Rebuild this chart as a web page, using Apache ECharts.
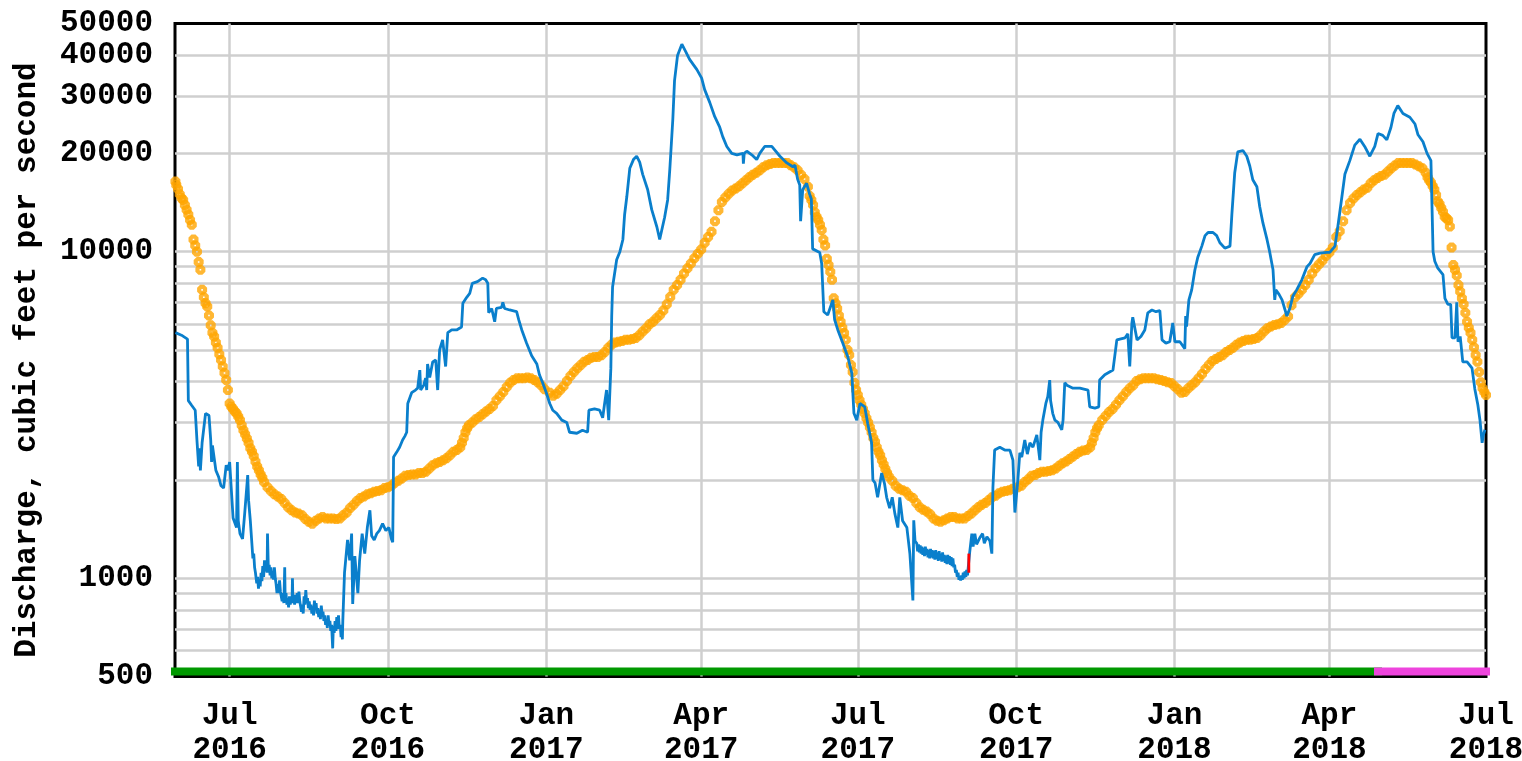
<!DOCTYPE html>
<html>
<head>
<meta charset="utf-8">
<title>Discharge, cubic feet per second</title>
<script src="https://cdn.jsdelivr.net/npm/echarts@6/dist/echarts.min.js"></script>
<style>
  html, body { margin: 0; padding: 0; background: #fff; }
  #chart { width: 1522px; height: 761px; }
</style>
</head>
<body>
<div id="chart"></div>
<script>
// ---------- axis definitions ----------
const monthNames = ['Jan','Feb','Mar','Apr','May','Jun','Jul','Aug','Sep','Oct','Nov','Dec'];
const axisStart = '2016-05-30 06:00';
const axisEnd = '2018-07-01 00:00';
const xLabelDates = ['2016-07-01','2016-10-01','2017-01-01','2017-04-01','2017-07-01','2017-10-01','2018-01-01','2018-04-01','2018-07-01'];
const xGridDates = ['2016-07-01','2016-10-01','2017-01-01','2017-04-01','2017-07-01','2017-10-01','2018-01-01','2018-04-01'];
const yLabelValues = [500, 1000, 10000, 20000, 30000, 40000, 50000];
const yGridValues = [600, 700, 800, 900, 1000, 2000, 3000, 4000, 5000, 6000, 7000, 8000, 9000, 10000, 20000, 30000, 40000];

// ---------- measured discharge (instantaneous) ----------
const discharge = [
['2016-05-30 12:00',5650],['2016-06-03',5550],['2016-06-06 12:00',5400],['2016-06-07',3500],['2016-06-09',3380],['2016-06-11',3270],
['2016-06-12',2650],['2016-06-13',2200],['2016-06-13 12:00',2500],['2016-06-14',2140],['2016-06-15',2600],['2016-06-17',3200],
['2016-06-19',3150],['2016-06-20',2650],['2016-06-20 12:00',2270],['2016-06-21',2550],['2016-06-23',2140],['2016-06-24 12:00',2050],
['2016-06-26',1920],['2016-06-27 12:00',1890],['2016-06-29',2220],['2016-06-30',2140],['2016-07-01',2270],['2016-07-02',1860],
['2016-07-03',1530],['2016-07-05',1430],['2016-07-05 12:00',2270],['2016-07-06',1500],['2016-07-07',1370],['2016-07-08 12:00',1320],
['2016-07-09 18:00',1580],['2016-07-11 12:00',2070],['2016-07-12',1735],['2016-07-13',1505],
['2016-07-14',1260],['2016-07-14 12:00',1150],['2016-07-15',1190],['2016-07-15 12:00',1080],['2016-07-16',1040],['2016-07-16 18:00',965],
['2016-07-17 06:00',1010],['2016-07-17 18:00',930],['2016-07-18 06:00',990],['2016-07-18 18:00',945],['2016-07-19 06:00',1040],['2016-07-19 18:00',980],
['2016-07-20 06:00',1090],['2016-07-20 18:00',1010],['2016-07-21 06:00',1135],['2016-07-21 18:00',1050],['2016-07-22 06:00',1110],['2016-07-22 18:00',1040],
['2016-07-23',1370],['2016-07-23 12:00',1060],['2016-07-24',1100],['2016-07-24 12:00',1020],['2016-07-25',1080],['2016-07-25 12:00',1000],
['2016-07-26',1050],['2016-07-26 12:00',990],['2016-07-27',1080],['2016-07-27 12:00',1000],['2016-07-28',960],['2016-07-28 12:00',900],
['2016-07-29',960],['2016-07-29 12:00',900],['2016-07-30',985],['2016-07-30 12:00',910],['2016-07-31',900],['2016-07-31 12:00',850],
['2016-08-01',900],['2016-08-01 12:00',840],['2016-08-02',1080],['2016-08-02 06:00',870],['2016-08-02 18:00',900],['2016-08-03 06:00',830],
['2016-08-03 18:00',870],['2016-08-04 06:00',815],['2016-08-04 18:00',880],['2016-08-05 06:00',830],['2016-08-05 18:00',880],['2016-08-06 06:00',840],
['2016-08-06 12:00',1000],['2016-08-06 18:00',850],['2016-08-07 06:00',880],['2016-08-07 18:00',830],['2016-08-08 06:00',890],['2016-08-08 18:00',840],
['2016-08-09 06:00',900],['2016-08-09 18:00',840],['2016-08-10 06:00',910],['2016-08-10 18:00',850],['2016-08-11 06:00',860],['2016-08-11 18:00',790],
['2016-08-12 06:00',830],['2016-08-12 18:00',780],['2016-08-13 06:00',880],['2016-08-13 18:00',830],['2016-08-14 06:00',920],['2016-08-14 18:00',840],
['2016-08-15 06:00',870],['2016-08-15 18:00',810],['2016-08-16 06:00',850],['2016-08-16 18:00',800],['2016-08-17 06:00',830],['2016-08-17 18:00',780],
['2016-08-18 06:00',820],['2016-08-18 18:00',770],['2016-08-19 06:00',855],['2016-08-19 18:00',800],['2016-08-20 06:00',840],['2016-08-20 18:00',780],
['2016-08-21 06:00',810],['2016-08-21 18:00',760],['2016-08-22 06:00',800],['2016-08-22 18:00',750],['2016-08-23 06:00',825],['2016-08-23 18:00',770],
['2016-08-24 06:00',790],['2016-08-24 18:00',740],['2016-08-25 06:00',770],['2016-08-25 18:00',720],['2016-08-26 06:00',750],['2016-08-26 18:00',705],
['2016-08-27 06:00',770],['2016-08-27 18:00',720],['2016-08-28 06:00',740],['2016-08-28 18:00',690],['2016-08-29 06:00',720],['2016-08-29 21:00',610],
['2016-08-30 06:00',715],['2016-08-30 18:00',680],['2016-08-31 06:00',740],['2016-08-31 18:00',690],['2016-09-01 06:00',760],['2016-09-01 18:00',700],
['2016-09-02 06:00',770],['2016-09-02 18:00',700],['2016-09-03 06:00',720],['2016-09-03 18:00',660],['2016-09-04 06:00',700],['2016-09-04 12:00',650],
['2016-09-04 18:00',740],['2016-09-05 18:00',1040],['2016-09-07 12:00',1310],
['2016-09-08 18:00',1135],['2016-09-09 21:00',1370],['2016-09-10 12:00',835],['2016-09-11 18:00',1170],['2016-09-13 12:00',900],['2016-09-14 12:00',1135],
['2016-09-16',1370],['2016-09-17 12:00',1190],['2016-09-19',1430],['2016-09-20 12:00',1615],['2016-09-21 12:00',1350],['2016-09-23',1310],
['2016-09-24 12:00',1370],['2016-09-26',1400],['2016-09-27 21:00',1470],['2016-09-29 18:00',1400],['2016-10-01 12:00',1430],['2016-10-03',1320],
['2016-10-03 18:00',1290],['2016-10-04 06:00',2350],['2016-10-06',2430],['2016-10-07 18:00',2520],['2016-10-09 12:00',2650],['2016-10-10 18:00',2720],
['2016-10-11 21:00',2800],['2016-10-12 12:00',3430],['2016-10-14 18:00',3700],['2016-10-17',3770],['2016-10-18 06:00',3820],['2016-10-19 12:00',4340],
['2016-10-20',3770],['2016-10-21 18:00',3900],['2016-10-22 21:00',4100],['2016-10-23 12:00',3770],['2016-10-24',4530],['2016-10-25 06:00',4120],
['2016-10-27',4600],['2016-10-28 18:00',4660],['2016-10-29 21:00',3770],['2016-10-31',5000],['2016-11-01 18:00',5370],['2016-11-03 12:00',4450],
['2016-11-04 18:00',5650],['2016-11-07',5760],['2016-11-09 21:00',5760],['2016-11-12 18:00',5880],['2016-11-13 12:00',6950],['2016-11-15 18:00',7250],
['2016-11-17 12:00',7450],['2016-11-19',8000],['2016-11-22',8100],['2016-11-25',8300],['2016-11-26 18:00',8200],['2016-11-28',8000],
['2016-11-28 12:00',6500],['2016-11-30 06:00',6700],['2016-12-02',6100],['2016-12-03',6700],['2016-12-06',6750],['2016-12-06 18:00',7000],
['2016-12-07 18:00',6700],['2016-12-10 18:00',6630],['2016-12-13 12:00',6580],['2016-12-14 18:00',6550],['2016-12-16',6180],['2016-12-17 18:00',5760],
['2016-12-20 12:00',5250],['2016-12-23 12:00',4800],['2016-12-26 12:00',4530],['2016-12-28',4200],['2016-12-29 21:00',3970],['2017-01-01',3700],
['2017-01-03',3430],['2017-01-04 18:00',3270],['2017-01-07',3200],['2017-01-10',3050],['2017-01-12 21:00',3000],['2017-01-14 12:00',2800],
['2017-01-18 18:00',2780],['2017-01-22',2840],['2017-01-25',2800],['2017-01-25 18:00',3270],['2017-01-29',3300],['2017-02-01',3270],
['2017-02-02 18:00',3100],['2017-02-03 21:00',3430],['2017-02-05',3770],['2017-02-06 06:00',3050],['2017-02-07 12:00',4400],['2017-02-08',6350],
['2017-02-08 12:00',7800],['2017-02-10 21:00',9450],['2017-02-12 18:00',10000],['2017-02-14 12:00',10900],['2017-02-15 12:00',13000],['2017-02-16 18:00',14700],
['2017-02-18 12:00',18000],['2017-02-20 18:00',19200],['2017-02-22 12:00',19600],['2017-02-24 06:00',18800],['2017-02-26',17250],['2017-02-28 21:00',15500],
['2017-03-03 06:00',13450],['2017-03-06 06:00',11900],['2017-03-07 21:00',10900],['2017-03-09',11000],['2017-03-10 18:00',12750],['2017-03-12 12:00',14400],
['2017-03-13 18:00',17850],['2017-03-15 12:00',25400],['2017-03-16 12:00',33400],['2017-03-18 06:00',39900],['2017-03-20 18:00',43200],['2017-03-23',41000],
['2017-03-25 06:00',38800],['2017-03-29 12:00',36100],['2017-04-01 06:00',34000],['2017-04-03',31350],['2017-04-06',28600],['2017-04-08 21:00',25900],
['2017-04-11 18:00',24050],['2017-04-13 12:00',22500],['2017-04-15 21:00',21000],['2017-04-18 18:00',20000],['2017-04-21 18:00',19800],['2017-04-25 06:00',20000],
['2017-04-25 12:00',18600],['2017-04-26',20000],['2017-04-27 12:00',20300],['2017-04-30 09:00',19800],['2017-05-03 06:00',19150],['2017-05-05',20000],
['2017-05-07 21:00',21000],['2017-05-12',21000],['2017-05-16 18:00',19600],['2017-05-20 18:00',18700],['2017-05-24 06:00',18200],['2017-05-25 12:00',18400],
['2017-05-27',16700],['2017-05-28 06:00',16000],['2017-05-28 18:00',12400],['2017-05-30',15500],['2017-06-01 06:00',16200],['2017-06-03',15000],
['2017-06-04',14500],['2017-06-04 18:00',10200],['2017-06-08 21:00',9950],['2017-06-10',9200],['2017-06-11 06:00',6550],['2017-06-13 12:00',6400],
['2017-06-16 12:00',7120],['2017-06-17 12:00',6200],['2017-06-19 09:00',5760],['2017-06-22 06:00',5250],['2017-06-25 06:00',4750],['2017-06-27 12:00',4250],
['2017-06-28 18:00',3200],['2017-06-30 09:00',3050],['2017-07-02 06:00',3430],['2017-07-05',3350],['2017-07-06 18:00',2980],['2017-07-09',2600],
['2017-07-09 18:00',2000],['2017-07-11',1960],['2017-07-12 12:00',1770],['2017-07-14 21:00',2100],['2017-07-16 12:00',1950],['2017-07-17 18:00',1770],
['2017-07-19 12:00',1640],['2017-07-21',1770],['2017-07-22 12:00',1580],['2017-07-24 06:00',1430],['2017-07-25 09:00',1770],['2017-07-27',1500],
['2017-07-29 12:00',1430],['2017-07-31 06:00',1190],['2017-08-02',855],['2017-08-02 12:00',1505],['2017-08-03 06:00',1300],
['2017-08-04 06:00',1280],['2017-08-04 18:00',1210],['2017-08-05 06:00',1270],['2017-08-05 18:00',1200],['2017-08-06 06:00',1260],['2017-08-06 18:00',1190],
['2017-08-07 06:00',1250],['2017-08-07 18:00',1180],['2017-08-08 06:00',1240],['2017-08-08 18:00',1170],['2017-08-09 06:00',1250],['2017-08-09 18:00',1180],
['2017-08-10 06:00',1230],['2017-08-10 18:00',1160],['2017-08-11 06:00',1220],['2017-08-11 18:00',1150],['2017-08-12 06:00',1230],['2017-08-12 18:00',1160],
['2017-08-13 06:00',1220],['2017-08-13 18:00',1150],['2017-08-14 06:00',1210],['2017-08-14 18:00',1140],['2017-08-15 06:00',1220],['2017-08-15 18:00',1145],
['2017-08-16 06:00',1200],['2017-08-16 18:00',1130],['2017-08-17 06:00',1210],['2017-08-17 18:00',1140],['2017-08-18 06:00',1190],['2017-08-18 18:00',1125],
['2017-08-19 06:00',1200],['2017-08-19 18:00',1130],['2017-08-20 06:00',1180],['2017-08-20 18:00',1115],['2017-08-21 06:00',1170],['2017-08-21 18:00',1105],
['2017-08-22 06:00',1180],['2017-08-22 18:00',1110],['2017-08-23 06:00',1170],['2017-08-23 18:00',1100],['2017-08-24 06:00',1160],['2017-08-24 18:00',1090],
['2017-08-25 06:00',1150],['2017-08-25 18:00',1080],['2017-08-26 06:00',1100],['2017-08-26 18:00',1040],['2017-08-27 06:00',1060],['2017-08-27 18:00',1010],
['2017-08-28 06:00',1040],['2017-08-28 18:00',990],['2017-08-29 06:00',1010],['2017-08-29 18:00',985],['2017-08-30 06:00',1020],['2017-08-30 18:00',990],
['2017-08-31 06:00',1040],['2017-08-31 18:00',1000],['2017-09-01 06:00',1050],['2017-09-01 18:00',1010],['2017-09-02 06:00',1060],['2017-09-02 18:00',1020],
['2017-09-03',1060],['2017-09-04',1200],['2017-09-05 06:00',1370],
['2017-09-06',1250],['2017-09-07',1370],['2017-09-08',1270],['2017-09-09 21:00',1330],['2017-09-11 12:00',1370],['2017-09-12 12:00',1280],
['2017-09-14',1340],['2017-09-15 18:00',1300],['2017-09-16 21:00',1190],['2017-09-17 12:00',1900],['2017-09-18 12:00',2470],['2017-09-21 12:00',2520],
['2017-09-24 09:00',2470],['2017-09-27 09:00',2470],['2017-09-29 03:00',2300],['2017-09-30 06:00',1590],['2017-10-02',2000],['2017-10-03 03:00',2420],
['2017-10-04 06:00',2350],['2017-10-06',2650],['2017-10-07 12:00',2400],['2017-10-09',2600],['2017-10-10 18:00',2520],['2017-10-13',2750],
['2017-10-14 18:00',2300],['2017-10-15 12:00',2800],['2017-10-16 12:00',3050],['2017-10-18 06:00',3430],['2017-10-19 09:00',3600],['2017-10-20 12:00',4045],
['2017-10-21',3500],['2017-10-22 06:00',3200],['2017-10-23 12:00',3050],['2017-10-25 06:00',3000],['2017-10-27 12:00',2850],['2017-10-28 06:00',3050],
['2017-10-29 06:00',3970],['2017-10-30 12:00',3900],['2017-11-03',3820],['2017-11-07',3820],['2017-11-11 18:00',3770],['2017-11-12 18:00',3350],
['2017-11-15 18:00',3320],['2017-11-18',3350],['2017-11-18 12:00',4045],['2017-11-21 12:00',4200],['2017-11-26 06:00',4340],['2017-11-28 12:00',5370],
['2017-11-30 06:00',5400],['2017-12-03 06:00',5450],['2017-12-04 21:00',5600],['2017-12-06',4450],['2017-12-07 06:00',6050],['2017-12-07 18:00',6300],
['2017-12-10 06:00',5370],['2017-12-12 12:00',5500],['2017-12-14 18:00',5760],['2017-12-16 12:00',6500],['2017-12-18 21:00',6630],['2017-12-21 06:00',6550],
['2017-12-23 12:00',6600],['2017-12-24 18:00',5370],['2017-12-27',5250],['2017-12-29 06:00',5300],['2017-12-31',6050],['2018-01-01 06:00',5300],
['2018-01-04 03:00',5300],['2018-01-05 06:00',5300],['2018-01-07',5050],['2018-01-07 12:00',6350],['2018-01-08',5900],['2018-01-09 09:00',7120],
['2018-01-11',7640],['2018-01-12 21:00',8800],['2018-01-14 12:00',9600],['2018-01-16 21:00',10400],['2018-01-18 18:00',11200],['2018-01-20 12:00',11450],
['2018-01-23 09:00',11450],['2018-01-25 12:00',11200],['2018-01-27 09:00',10650],['2018-01-30 06:00',10250],['2018-02-02 06:00',10400],['2018-02-03 09:00',13100],
['2018-02-05',17450],['2018-02-06 18:00',20200],['2018-02-09 18:00',20400],['2018-02-12',19600],['2018-02-13 18:00',18300],['2018-02-15 12:00',16600],
['2018-02-17 21:00',15800],['2018-02-19 12:00',13750],['2018-02-21 09:00',12250],['2018-02-23 18:00',10900],['2018-02-25 09:00',9950],['2018-02-27 06:00',8800],
['2018-02-28 06:00',7120],['2018-02-28 21:00',7640],['2018-03-02 18:00',7400],['2018-03-04 12:00',7120],['2018-03-06 06:00',6630],['2018-03-07 06:00',6350],
['2018-03-09',6700],['2018-03-10 18:00',7300],['2018-03-13',7640],['2018-03-16',8200],['2018-03-19',9000],['2018-03-20 18:00',9200],
['2018-03-23 12:00',9800],['2018-03-26 12:00',9900],['2018-03-30 12:00',9950],['2018-04-01 06:00',9950],['2018-04-04 06:00',10400],['2018-04-05 21:00',11900],
['2018-04-08 06:00',14700],['2018-04-10',17250],['2018-04-12 21:00',19000],['2018-04-15 18:00',21200],['2018-04-18 18:00',22100],['2018-04-21 12:00',21000],
['2018-04-24 12:00',19600],['2018-04-27 09:00',21000],['2018-04-29 06:00',23000],['2018-05-02',22700],['2018-05-04 09:00',22000],['2018-05-06 18:00',24000],
['2018-05-08 12:00',26500],['2018-05-10 18:00',28000],['2018-05-13 18:00',26500],['2018-05-17 18:00',25800],['2018-05-20 18:00',24600],['2018-05-22 12:00',22800],
['2018-05-25 09:00',21700],['2018-05-27 18:00',20000],['2018-05-30',19000],['2018-05-31 06:00',10000],['2018-06-01 06:00',9350],['2018-06-03',8900],
['2018-06-06',8500],['2018-06-07 03:00',7200],['2018-06-08 21:00',6900],['2018-06-10 12:00',6900],['2018-06-11 06:00',5450],['2018-06-13',5450],
['2018-06-14',7000],['2018-06-14 18:00',5300],['2018-06-16',5500],['2018-06-17 12:00',4600],['2018-06-20',4600],['2018-06-22 21:00',4400],
['2018-06-24 12:00',3800],['2018-06-26 06:00',3400],['2018-06-27 12:00',3050],['2018-06-28 18:00',2600],['2018-06-29 12:00',2750],['2018-06-30 09:00',2850]
];

// ---------- median of daily statistic (historical record) ----------
const dailyMedian = [
['2016-05-30 12:00',16400],['2016-05-31',16000],['2016-06-01',15550],['2016-06-02',15000],['2016-06-03',14600],['2016-06-04',14400],
['2016-06-05',13900],['2016-06-06',13450],['2016-06-07',13000],['2016-06-08',12500],['2016-06-09',12100],['2016-06-10',10900],
['2016-06-11',10450],['2016-06-12',10000],['2016-06-13',9300],['2016-06-14',8800],['2016-06-15',7640],['2016-06-16',7250],
['2016-06-17',6950],['2016-06-18',6800],['2016-06-19',6380],['2016-06-20',5950],['2016-06-21',5650],['2016-06-22',5500],
['2016-06-23',5270],['2016-06-24',5080],['2016-06-25',4850],['2016-06-26',4660],['2016-06-27',4450],['2016-06-28',4250],
['2016-06-29',4045],['2016-06-30',3770],['2016-07-01',3430],['2016-07-02',3350],['2016-07-03',3300],['2016-07-04',3240],
['2016-07-05',3200],['2016-07-06',3130],['2016-07-07',3050],['2016-07-08',2940],['2016-07-09',2840],['2016-07-10',2760],
['2016-07-11',2680],['2016-07-12',2600],['2016-07-13',2500],['2016-07-14',2440],['2016-07-15',2370],['2016-07-16',2280],
['2016-07-17',2200],['2016-07-18',2140],['2016-07-19',2080],['2016-07-20',2030],['2016-07-21',1970],['2016-07-23',1900],
['2016-07-25',1850],['2016-07-27',1810],['2016-07-29',1780],['2016-07-31',1750],['2016-08-02',1700],['2016-08-04',1650],
['2016-08-06',1615],['2016-08-08',1590],['2016-08-10',1580],['2016-08-12',1560],['2016-08-14',1520],['2016-08-16',1490],
['2016-08-18',1470],['2016-08-20',1500],['2016-08-22',1525],['2016-08-24',1540],['2016-08-26',1525],['2016-08-28',1525],
['2016-08-30',1525],['2016-09-01',1520],['2016-09-03',1525],['2016-09-05',1560],['2016-09-07',1590],['2016-09-09',1640],
['2016-09-11',1680],['2016-09-13',1725],['2016-09-15',1760],['2016-09-17',1780],['2016-09-19',1810],['2016-09-21',1820],
['2016-09-23',1840],['2016-09-25',1850],['2016-09-27',1860],['2016-09-29',1890],['2016-10-01',1900],['2016-10-03',1920],
['2016-10-05',1960],['2016-10-07',1990],['2016-10-09',2020],['2016-10-11',2060],['2016-10-13',2070],['2016-10-15',2080],
['2016-10-17',2080],['2016-10-19',2100],['2016-10-21',2100],['2016-10-23',2120],['2016-10-25',2170],['2016-10-27',2220],
['2016-10-29',2250],['2016-10-31',2270],['2016-11-02',2300],['2016-11-04',2330],['2016-11-06',2380],['2016-11-08',2440],
['2016-11-10',2470],['2016-11-12',2520],['2016-11-13',2600],['2016-11-14',2690],['2016-11-15',2800],['2016-11-16',2880],
['2016-11-17',2940],['2016-11-19',3000],['2016-11-21',3070],['2016-11-23',3120],['2016-11-25',3180],['2016-11-27',3240],
['2016-11-29',3300],['2016-12-01',3370],['2016-12-03',3510],['2016-12-05',3610],['2016-12-07',3720],['2016-12-09',3850],
['2016-12-11',3970],['2016-12-13',4045],['2016-12-15',4100],['2016-12-17',4100],['2016-12-19',4100],['2016-12-21',4120],
['2016-12-23',4100],['2016-12-25',4045],['2016-12-27',3980],['2016-12-29',3900],['2016-12-31',3790],['2017-01-03',3700],
['2017-01-05',3620],['2017-01-07',3670],['2017-01-09',3770],['2017-01-11',3870],['2017-01-13',4020],['2017-01-15',4160],
['2017-01-17',4280],['2017-01-19',4400],['2017-01-21',4500],['2017-01-23',4600],['2017-01-25',4660],['2017-01-27',4730],
['2017-01-29',4760],['2017-01-31',4760],['2017-02-02',4820],['2017-02-04',4930],['2017-02-06',5080],['2017-02-08',5200],
['2017-02-10',5270],['2017-02-12',5300],['2017-02-14',5330],['2017-02-16',5370],['2017-02-18',5370],['2017-02-20',5400],
['2017-02-22',5440],['2017-02-24',5550],['2017-02-26',5700],['2017-02-28',5830],['2017-03-02',6000],['2017-03-04',6100],
['2017-03-06',6250],['2017-03-08',6400],['2017-03-10',6600],['2017-03-12',6900],['2017-03-14',7260],['2017-03-16',7640],
['2017-03-18',7900],['2017-03-20',8200],['2017-03-22',8580],['2017-03-24',8900],['2017-03-26',9200],['2017-03-28',9550],
['2017-03-30',9850],['2017-04-01',10150],['2017-04-03',10650],['2017-04-05',11100],['2017-04-07',11500],['2017-04-09',12400],
['2017-04-11',13400],['2017-04-13',14200],['2017-04-15',14650],['2017-04-17',15050],['2017-04-19',15400],['2017-04-21',15600],
['2017-04-23',15850],['2017-04-25',16200],['2017-04-27',16550],['2017-04-29',16900],['2017-05-01',17200],['2017-05-03',17450],
['2017-05-05',17750],['2017-05-07',18150],['2017-05-09',18400],['2017-05-11',18550],['2017-05-13',18700],['2017-05-15',18700],
['2017-05-17',18700],['2017-05-19',18700],['2017-05-21',18700],['2017-05-23',18400],['2017-05-25',18150],['2017-05-27',17750],
['2017-05-29',17200],['2017-05-31',16700],['2017-06-02',15800],['2017-06-03',14800],['2017-06-04',14400],['2017-06-05',13900],
['2017-06-06',13200],['2017-06-07',12800],['2017-06-08',12500],['2017-06-09',12100],['2017-06-10',11650],['2017-06-11',10900],
['2017-06-12',10450],['2017-06-13',9520],['2017-06-14',9100],['2017-06-15',8680],['2017-06-16',8200],['2017-06-17',7200],
['2017-06-18',6950],['2017-06-19',6700],['2017-06-20',6380],['2017-06-21',6100],['2017-06-22',5850],['2017-06-23',5640],
['2017-06-24',5370],['2017-06-25',5000],['2017-06-26',4830],['2017-06-27',4500],['2017-06-28',4280],['2017-06-29',3970],
['2017-06-30',3770],['2017-07-01',3640],['2017-07-02',3510],['2017-07-03',3400],['2017-07-04',3300],['2017-07-05',3200],
['2017-07-06',3090],['2017-07-07',3000],['2017-07-08',2900],['2017-07-09',2800],['2017-07-10',2690],['2017-07-11',2620],
['2017-07-12',2520],['2017-07-13',2440],['2017-07-14',2380],['2017-07-15',2300],['2017-07-16',2230],['2017-07-17',2160],
['2017-07-18',2100],['2017-07-19',2050],['2017-07-21',1990],['2017-07-23',1920],['2017-07-25',1880],['2017-07-27',1860],
['2017-07-29',1840],['2017-07-31',1790],['2017-08-02',1760],['2017-08-04',1700],['2017-08-06',1650],['2017-08-08',1620],
['2017-08-10',1600],['2017-08-12',1570],['2017-08-14',1525],['2017-08-16',1500],['2017-08-18',1490],['2017-08-20',1505],
['2017-08-22',1525],['2017-08-24',1540],['2017-08-26',1540],['2017-08-28',1525],['2017-08-30',1525],['2017-09-01',1525],
['2017-09-03',1550],['2017-09-05',1580],['2017-09-07',1615],['2017-09-09',1650],['2017-09-11',1680],['2017-09-13',1700],
['2017-09-15',1735],['2017-09-17',1770],['2017-09-19',1790],['2017-09-21',1820],['2017-09-23',1840],['2017-09-25',1850],
['2017-09-27',1860],['2017-09-29',1880],['2017-10-02',1900],['2017-10-04',1920],['2017-10-06',1970],['2017-10-08',2010],
['2017-10-10',2060],['2017-10-12',2070],['2017-10-14',2100],['2017-10-16',2120],['2017-10-18',2120],['2017-10-20',2130],
['2017-10-22',2140],['2017-10-24',2170],['2017-10-26',2210],['2017-10-28',2250],['2017-10-30',2280],['2017-11-01',2320],
['2017-11-03',2360],['2017-11-05',2400],['2017-11-07',2440],['2017-11-09',2460],['2017-11-11',2470],['2017-11-13',2520],
['2017-11-14',2600],['2017-11-15',2690],['2017-11-16',2800],['2017-11-17',2880],['2017-11-18',2940],['2017-11-20',3050],
['2017-11-22',3140],['2017-11-24',3230],['2017-11-26',3300],['2017-11-28',3400],['2017-11-30',3510],['2017-12-02',3610],
['2017-12-04',3720],['2017-12-06',3820],['2017-12-08',3900],['2017-12-10',4020],['2017-12-12',4070],['2017-12-14',4100],
['2017-12-16',4100],['2017-12-18',4100],['2017-12-20',4100],['2017-12-22',4070],['2017-12-24',4045],['2017-12-26',4020],
['2017-12-28',3980],['2017-12-30',3960],['2018-01-01',3870],['2018-01-03',3790],['2018-01-05',3700],['2018-01-07',3720],
['2018-01-09',3820],['2018-01-11',3900],['2018-01-13',3980],['2018-01-15',4100],['2018-01-17',4220],['2018-01-19',4370],
['2018-01-21',4500],['2018-01-23',4630],['2018-01-25',4690],['2018-01-27',4760],['2018-01-29',4820],['2018-01-31',4930],
['2018-02-02',5000],['2018-02-04',5080],['2018-02-06',5190],['2018-02-08',5270],['2018-02-10',5330],['2018-02-12',5370],
['2018-02-14',5370],['2018-02-16',5400],['2018-02-18',5440],['2018-02-20',5550],['2018-02-22',5700],['2018-02-24',5830],
['2018-02-26',5900],['2018-02-28',5960],['2018-03-02',6000],['2018-03-04',6050],['2018-03-06',6180],['2018-03-08',6330],
['2018-03-10',6860],['2018-03-12',7250],['2018-03-14',7440],['2018-03-16',7640],['2018-03-18',7900],['2018-03-20',8200],
['2018-03-22',8580],['2018-03-24',8900],['2018-03-26',9150],['2018-03-28',9400],['2018-03-30',9700],['2018-04-01',9950],
['2018-04-03',10300],['2018-04-05',11100],['2018-04-07',11550],['2018-04-09',12400],['2018-04-11',13400],['2018-04-13',14100],
['2018-04-15',14550],['2018-04-17',14900],['2018-04-19',15200],['2018-04-21',15500],['2018-04-23',15700],['2018-04-25',16200],
['2018-04-27',16550],['2018-04-29',16800],['2018-05-01',17050],['2018-05-03',17200],['2018-05-05',17600],['2018-05-07',18000],
['2018-05-09',18350],['2018-05-11',18700],['2018-05-13',18700],['2018-05-15',18700],['2018-05-17',18700],['2018-05-19',18700],
['2018-05-21',18500],['2018-05-23',18250],['2018-05-25',18000],['2018-05-27',17450],['2018-05-28',16900],['2018-05-29',16550],
['2018-05-30',16300],['2018-05-31',15900],['2018-06-01',15500],['2018-06-02',14900],['2018-06-03',14250],['2018-06-04',14000],
['2018-06-05',13600],['2018-06-06',13250],['2018-06-07',12800],['2018-06-08',12650],['2018-06-09',12500],['2018-06-10',11950],
['2018-06-11',10300],['2018-06-12',9100],['2018-06-13',8800],['2018-06-14',8450],['2018-06-15',7900],['2018-06-16',7550],
['2018-06-17',7200],['2018-06-18',6900],['2018-06-19',6500],['2018-06-20',6100],['2018-06-21',5850],['2018-06-22',5650],
['2018-06-23',5370],['2018-06-24',5100],['2018-06-25',4830],['2018-06-26',4600],['2018-06-27',4280],['2018-06-28',3980],
['2018-06-29',3820],['2018-06-30',3720],['2018-07-01',3640]
];

// short flagged stretch of record
const flaggedSegment = [['2017-09-03 12:00',1040],['2017-09-03 12:00',1190]];

// data approval periods (drawn as a strip along the bottom)
const approvedPeriod = ['2016-05-30 06:00','2018-04-29 06:00'];
const provisionalPeriod = ['2018-04-29 06:00','2018-07-01 00:00'];

// ---------- helpers ----------
function toTime(s) {
  const parts = s.split(' ');
  const d = parts[0].split('-').map(Number);
  const t = (parts[1] || '00:00').split(':').map(Number);
  return new Date(d[0], d[1] - 1, d[2], t[0], t[1]).getTime();
}
const asPoints = arr => arr.map(p => [toTime(p[0]), p[1]]);

const FONT = 'Liberation Mono';
const stripLevel = 518;   // strip sits just above the bottom edge
const ringSymbol = 'path://M3,0L7,0L10,3L10,7L7,10L3,10L0,7L0,3Z M4.2,4.2L4.2,5.8L5.8,5.8L5.8,4.2Z';

const chart = echarts.init(document.getElementById('chart'), null, { renderer: 'canvas' });
chart.setOption({
  animation: false,
  backgroundColor: '#ffffff',
  grid: {
    left: 175, right: 36, top: 23.4, bottom: 84.4,
    outerBoundsMode: 'none',
    containLabel: false,
    show: true, borderColor: '#000000', borderWidth: 3, backgroundColor: 'transparent'
  },
  // time runs along a plain numeric axis of millisecond timestamps
  xAxis: {
    type: 'value',
    min: toTime(axisStart),
    max: toTime(axisEnd),
    axisLine: { show: false },
    axisTick: { show: false, customValues: xGridDates.map(toTime) },
    splitLine: { show: true, lineStyle: { color: '#cfcfcf', width: 2.5 } },
    axisLabel: {
      customValues: xLabelDates.map(toTime),
      formatter: v => { const d = new Date(v); return monthNames[d.getMonth()] + '\n' + d.getFullYear(); },
      fontFamily: FONT, fontWeight: 'bold', fontSize: 31, lineHeight: 34, color: '#000000',
      margin: 23, hideOverlap: false, showMinLabel: true, showMaxLabel: true
    }
  },
  yAxis: {
    type: 'log',
    logBase: 10,
    min: 500,
    max: 50000,
    name: 'Discharge, cubic feet per second',
    nameLocation: 'middle',
    nameRotate: 90,
    nameGap: 132,
    nameTextStyle: { fontFamily: FONT, fontWeight: 'bold', fontSize: 31, color: '#000000', padding: [0, 20, 0, 0] },
    axisLine: { show: false },
    axisTick: { show: false, customValues: yGridValues },
    splitLine: { show: true, lineStyle: { color: '#cfcfcf', width: 2.5 } },
    axisLabel: {
      customValues: yLabelValues,
      formatter: v => String(Math.round(v)),
      fontFamily: FONT, fontWeight: 'bold', fontSize: 31, color: '#000000', margin: 22,
      showMinLabel: true, showMaxLabel: true
    }
  },
  series: [
    {
      name: 'Median daily statistic',
      type: 'scatter',
      data: asPoints(dailyMedian),
      symbol: ringSymbol,
      symbolSize: 10,
      itemStyle: { color: '#ffa500' },
      z: 2
    },
    {
      name: 'Discharge',
      type: 'line',
      data: asPoints(discharge),
      showSymbol: false,
      lineStyle: { color: '#0a7fcc', width: 2.8 },
      z: 3
    },
    {
      name: 'Flagged',
      type: 'line',
      data: asPoints(flaggedSegment),
      showSymbol: false,
      lineStyle: { color: '#ff0000', width: 2.8 },
      z: 4
    },
    {
      name: 'Approved',
      type: 'line',
      data: approvedPeriod.map(d => [toTime(d), stripLevel]),
      showSymbol: false,
      clip: false,
      lineStyle: { color: '#009900', width: 8, cap: 'square' },
      z: 5
    },
    {
      name: 'Provisional',
      type: 'line',
      data: provisionalPeriod.map(d => [toTime(d), stripLevel]),
      showSymbol: false,
      clip: false,
      lineStyle: { color: '#ee44dd', width: 8, cap: 'square' },
      z: 6
    }
  ]
});
</script>
</body>
</html>
